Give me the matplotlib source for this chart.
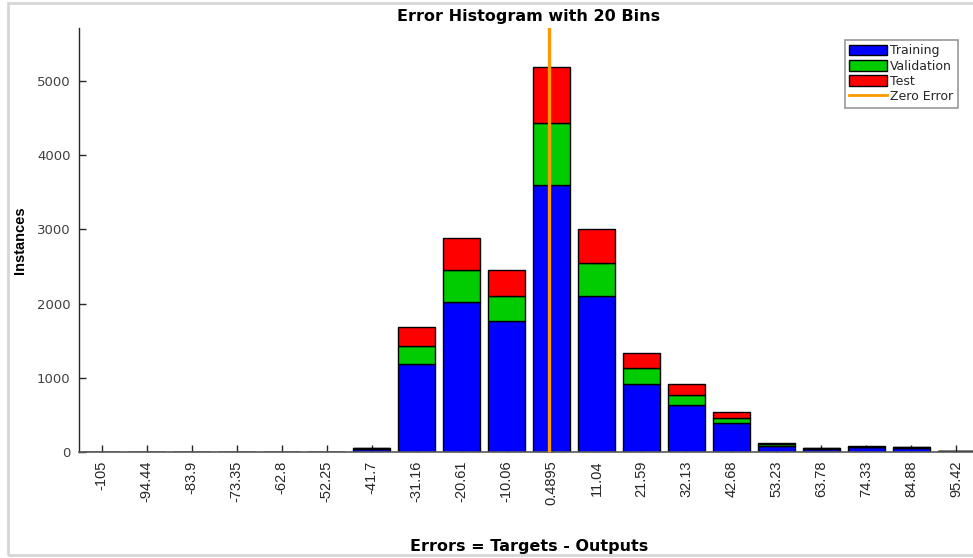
import matplotlib
matplotlib.use("Agg")
import matplotlib.pyplot as plt
from matplotlib.patches import Rectangle, Patch
from matplotlib.lines import Line2D
from matplotlib import font_manager

# Bin centres of the error histogram (Errors = Targets - Outputs)
bin_centers = [-105.0, -94.44, -83.9, -73.35, -62.8, -52.25, -41.7, -31.16, -20.61, -10.06,
               0.4895, 11.04, 21.59, 32.13, 42.68, 53.23, 63.78, 74.33, 84.88, 95.42]
tick_labels = ["-105", "-94.44", "-83.9", "-73.35", "-62.8", "-52.25", "-41.7", "-31.16",
               "-20.61", "-10.06", "0.4895", "11.04", "21.59", "32.13", "42.68", "53.23",
               "63.78", "74.33", "84.88", "95.42"]

# Instances per bin for each data split
training = [0, 0, 0, 0, 0, 0, 45, 1186, 2022, 1765, 3598, 2102, 916, 633, 391, 77, 45, 65, 55, 10]
validation = [0, 0, 0, 0, 0, 0, 5, 243, 431, 337, 836, 445, 216, 135, 67, 27, 5, 8, 6, 0]
test = [0, 0, 0, 0, 0, 0, 4, 256, 431, 351, 755, 458, 202, 148, 81, 17, 4, 7, 6, 0]

zero_error = 0.0
bin_width = 10.55

available = {f.name for f in font_manager.fontManager.ttflist}
narrow_font = "Liberation Sans Narrow" if "Liberation Sans Narrow" in available else "Liberation Sans"
plt.rcParams["font.family"] = ["DejaVu Sans"]

fig = plt.figure(figsize=(9.73, 5.58), dpi=100)
fig.patch.set_facecolor("white")

# light grey frame around the figure window
fig.patches.append(Rectangle((8 / 973, 3 / 558), 1.2, 552 / 558, transform=fig.transFigure,
                             fill=False, edgecolor="#d6d6d6", linewidth=2, zorder=0))

ax = fig.add_axes([79 / 973, 106 / 558, 900 / 973, 424 / 558])

w = bin_width * 0.81
bottom_v = list(training)
bottom_te = [t + v for t, v in zip(training, validation)]
ax.bar(bin_centers, training, width=w, color="#0000ff", edgecolor="black", linewidth=1.0, zorder=2)
ax.bar(bin_centers, validation, width=w, bottom=bottom_v, color="#00cc00", edgecolor="black",
       linewidth=1.0, zorder=2)
ax.bar(bin_centers, test, width=w, bottom=bottom_te, color="#ff0000", edgecolor="black",
       linewidth=1.0, zorder=2)

ax.axvline(zero_error, color="#ff9900", linewidth=2.4, zorder=3)

ax.set_xlim(bin_centers[0] - 0.504 * bin_width, bin_centers[-1] + 0.504 * bin_width)
ax.set_ylim(0, 5714)

ax.set_xticks(bin_centers)
ax.set_xticklabels(tick_labels, rotation=90, fontsize=10.5, family=[narrow_font, "DejaVu Sans"],
                   color="#262626")
ax.set_yticks([0, 1000, 2000, 3000, 4000, 5000])
ax.set_yticklabels(["0", "1000", "2000", "3000", "4000", "5000"], fontsize=9.5, color="#404040")
ax.tick_params(axis="both", direction="in", length=5, width=1, color="#262626")
ax.tick_params(axis="x", pad=6)
ax.tick_params(axis="y", pad=6)

for side in ("top", "right"):
    ax.spines[side].set_visible(False)
ax.spines["left"].set_color("#262626")
ax.spines["bottom"].set_color("#595959")
ax.spines["left"].set_linewidth(1.0)
ax.spines["bottom"].set_linewidth(1.2)

fig.text(529 / 973, 1 - 16 / 558, "Error Histogram with 20 Bins", ha="center", va="center",
         fontsize=11.5, fontweight="bold")
fig.text(529 / 973, 1 - 547 / 558, "Errors = Targets - Outputs", ha="center", va="center",
         fontsize=11.5, fontweight="bold")
fig.text(20 / 973, 1 - 240 / 558, "Instances", ha="center", va="center", rotation=90,
         fontsize=10.5, fontweight="bold", family="Liberation Sans")

handles = [
    Patch(facecolor="#0000ff", edgecolor="black", label="Training"),
    Patch(facecolor="#00cc00", edgecolor="black", label="Validation"),
    Patch(facecolor="#ff0000", edgecolor="black", label="Test"),
    Line2D([0], [0], color="#ff9900", linewidth=2, label="Zero Error"),
]
leg = fig.legend(handles=handles, loc="upper left", bbox_to_anchor=(845 / 973, 1 - 40 / 558),
                 fontsize=9, frameon=True, fancybox=False, edgecolor="#7f7f7f",
                 handlelength=3.0, handleheight=0.95, handletextpad=0.25, labelspacing=0.18,
                 borderpad=0.35, borderaxespad=0.0)
leg.get_frame().set_linewidth(1.2)
for t in leg.get_texts():
    t.set_color("#262626")

fig.savefig("out.png", dpi=100)
